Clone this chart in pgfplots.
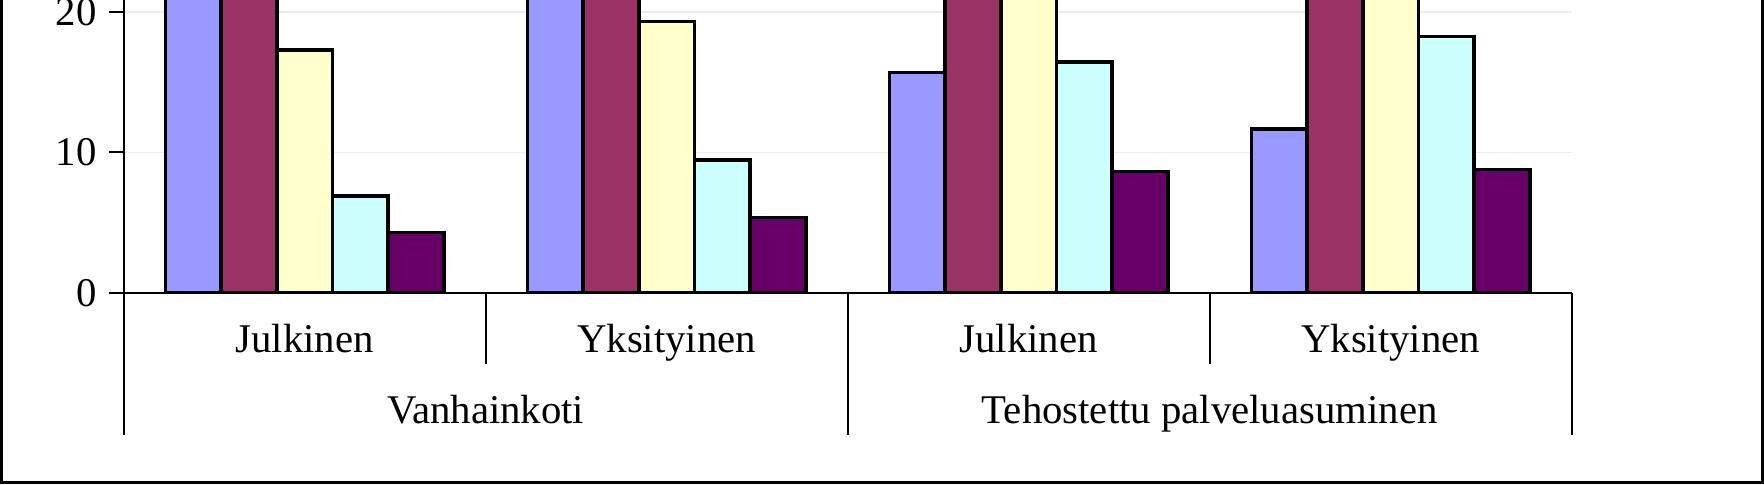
\documentclass[border=0pt]{standalone}
\usepackage{fontspec}
\setmainfont{Liberation Serif}
\usepackage{pgfplots}
\pgfplotsset{compat=1.18}
\definecolor{cA}{HTML}{9999FF}
\definecolor{cB}{HTML}{993366}
\definecolor{cC}{HTML}{FFFFCC}
\definecolor{cD}{HTML}{CCFFFF}
\definecolor{cE}{HTML}{660066}
\begin{document}
\fontsize{11.6}{13}\selectfont
\begin{tikzpicture}
\useasboundingbox (0,0) rectangle (176.4mm,48.4mm);
\draw[line width=0.8pt] (0.15mm,49mm) -- (0.15mm,0.15mm) -- (176.25mm,0.15mm) -- (176.25mm,49mm);
\begin{axis}[
  at={(12.375mm,19.13mm)}, anchor=south west,
  scale only axis, width=144.79mm, height=29.27mm,
  xmin=0, xmax=4, ymin=0, ymax=20.86,
  axis lines*=left,
  axis line style={line width=0.6pt, black},
  ybar, bar width=0.1538, bar shift=0pt,
  xtick=\empty,
  ytick={0,10,20},
  tick align=outside,
  major tick length=1.46mm,
  y tick style={line width=0.6pt, black},
  yticklabel style={anchor=east, inner sep=0pt, xshift=-1.2mm},
  /pgf/number format/assume math mode=true,
  ymajorgrids,
  grid style={black!7, line width=0.5pt},
  every axis plot/.append style={draw=black, line width=1pt},
]
\addplot[fill=cA] coordinates {(0.1923,30) (1.1923,28) (2.1923,15.68) (3.1923,11.67)};
\addplot[fill=cB] coordinates {(0.3462,40) (1.3462,36) (2.3462,30) (3.3462,32)};
\addplot[fill=cC] coordinates {(0.5,17.3) (1.5,19.32) (2.5,28) (3.5,29)};
\addplot[fill=cD] coordinates {(0.6538,6.89) (1.6538,9.46) (2.6538,16.44) (3.6538,18.25)};
\addplot[fill=cE] coordinates {(0.8077,4.3) (1.8077,5.37) (2.8077,8.65) (3.8077,8.79)};
\coordinate (s0) at (axis cs:0,0);
\coordinate (s1) at (axis cs:1,0);
\coordinate (s2) at (axis cs:2,0);
\coordinate (s3) at (axis cs:3,0);
\coordinate (s4) at (axis cs:4,0);
\coordinate (m0) at (axis cs:0.5,0);
\coordinate (m1) at (axis cs:1.5,0);
\coordinate (m2) at (axis cs:2.5,0);
\coordinate (m3) at (axis cs:3.5,0);
\end{axis}
\draw[line width=0.6pt] (s0) -- ++(0,-14.2mm);
\draw[line width=0.6pt] (s2) -- ++(0,-14.2mm);
\draw[line width=0.6pt] (s4) -- ++(0,-14.2mm);
\draw[line width=0.6pt] (s1) -- ++(0,-7.15mm);
\draw[line width=0.6pt] (s3) -- ++(0,-7.15mm);
\path (m0) ++(0,-5.96mm) node[anchor=base, inner sep=0pt] {Julkinen};
\path (m1) ++(0,-5.96mm) node[anchor=base, inner sep=0pt] {Yksityinen};
\path (m2) ++(0,-5.96mm) node[anchor=base, inner sep=0pt] {Julkinen};
\path (m3) ++(0,-5.96mm) node[anchor=base, inner sep=0pt] {Yksityinen};
\path (s1) ++(0,-13.05mm) node[anchor=base, inner sep=0pt] {Vanhainkoti};
\path (s3) ++(0,-13.05mm) node[anchor=base, inner sep=0pt] {Tehostettu palveluasuminen};
\end{tikzpicture}
\end{document}
